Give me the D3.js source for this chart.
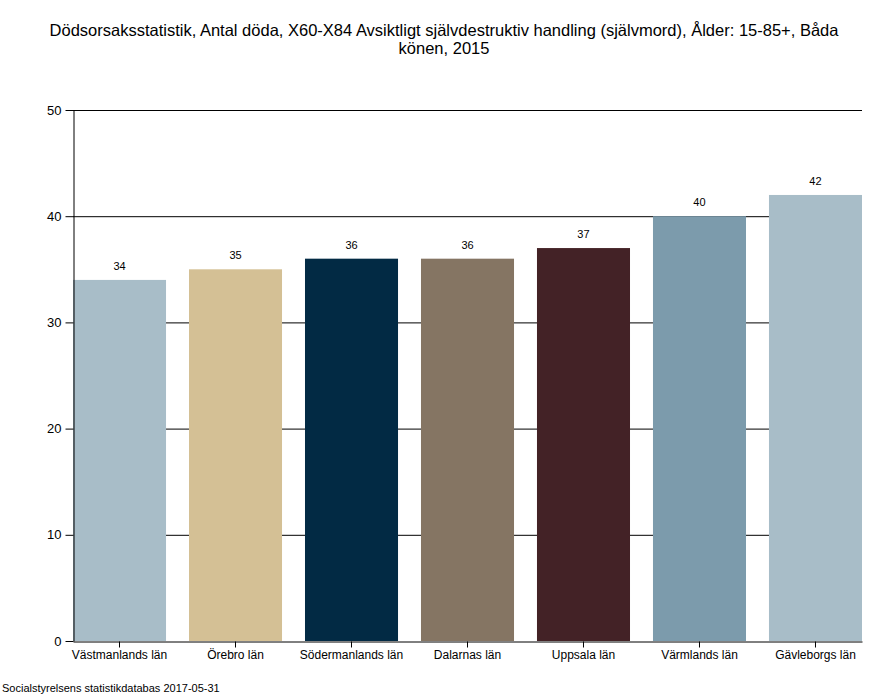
<!DOCTYPE html>
<html><head><meta charset="utf-8">
<script src="https://cdn.jsdelivr.net/npm/d3@7"></script>
<style>body{margin:0;background:#fff}svg{display:block;font-family:"Liberation Sans",Arial,sans-serif}</style>
</head><body><svg id="c" width="890" height="700"></svg>
<script>
const categories = ["Västmanlands län","Örebro län","Södermanlands län","Dalarnas län","Uppsala län","Värmlands län","Gävleborgs län"];
const values = [34,35,36,36,37,40,42];
const colors = ["#a8bdc8","#d4c095","#022a44","#857563","#432226","#7c9bac","#a8bdc8"];
const yTicks = [0,10,20,30,40,50];
const titleLines = ["Dödsorsaksstatistik, Antal döda, X60-X84 Avsiktligt självdestruktiv handling (självmord), Ålder: 15-85+, Båda","könen, 2015"];
const footer = "Socialstyrelsens statistikdatabas 2017-05-31";

const svg = d3.select("#c");
const x = d3.scaleBand().domain(categories).range([73,862]).paddingInner(0.198).paddingOuter(0);
const y = d3.scaleLinear().domain([0,50]).range([641,110]);

svg.append("g").selectAll("text").data(titleLines).join("text")
  .attr("x",444).attr("y",(d,i)=>36+i*18).attr("text-anchor","middle")
  .attr("font-size",16.5).attr("fill","#000").text(d=>d);

// gridlines
svg.append("g").selectAll("line").data(yTicks.filter(d=>d>0)).join("line")
  .attr("x1",73).attr("x2",862).attr("y1",d=>y(d)+0.5).attr("y2",d=>y(d)+0.5)
  .attr("stroke","#000").attr("stroke-width",1);

svg.append("g").selectAll("rect").data(values).join("rect")
  .attr("x",(d,i)=>x(categories[i])).attr("width",x.bandwidth())
  .attr("y",d=>y(d)).attr("height",d=>y(0)-y(d))
  .attr("fill",(d,i)=>colors[i]);

svg.append("g").selectAll("text").data(values).join("text")
  .attr("x",(d,i)=>x(categories[i])+x.bandwidth()/2).attr("y",d=>y(d)-10)
  .attr("text-anchor","middle").attr("font-size",11).attr("fill","#000").text(d=>d);

const ya = svg.append("g").attr("transform","translate(73.5,0)")
  .call(d3.axisLeft(y).tickValues(yTicks).tickSize(8).tickPadding(4).tickSizeOuter(0));
ya.select(".domain").attr("stroke","#000");
ya.selectAll("text").attr("font-size",13).attr("font-family","Liberation Sans,Arial,sans-serif").attr("fill","#000");

const xa = svg.append("g").attr("transform","translate(0,641.5)")
  .call(d3.axisBottom(x).tickSize(6).tickPadding(3).tickSizeOuter(0));
xa.select(".domain").attr("stroke","#000");
xa.selectAll("text").attr("font-size",12).attr("font-family","Liberation Sans,Arial,sans-serif").attr("fill","#000");

svg.append("text").attr("x",2).attr("y",692).attr("font-size",11).attr("fill","#000").text(footer);
</script></body></html>
